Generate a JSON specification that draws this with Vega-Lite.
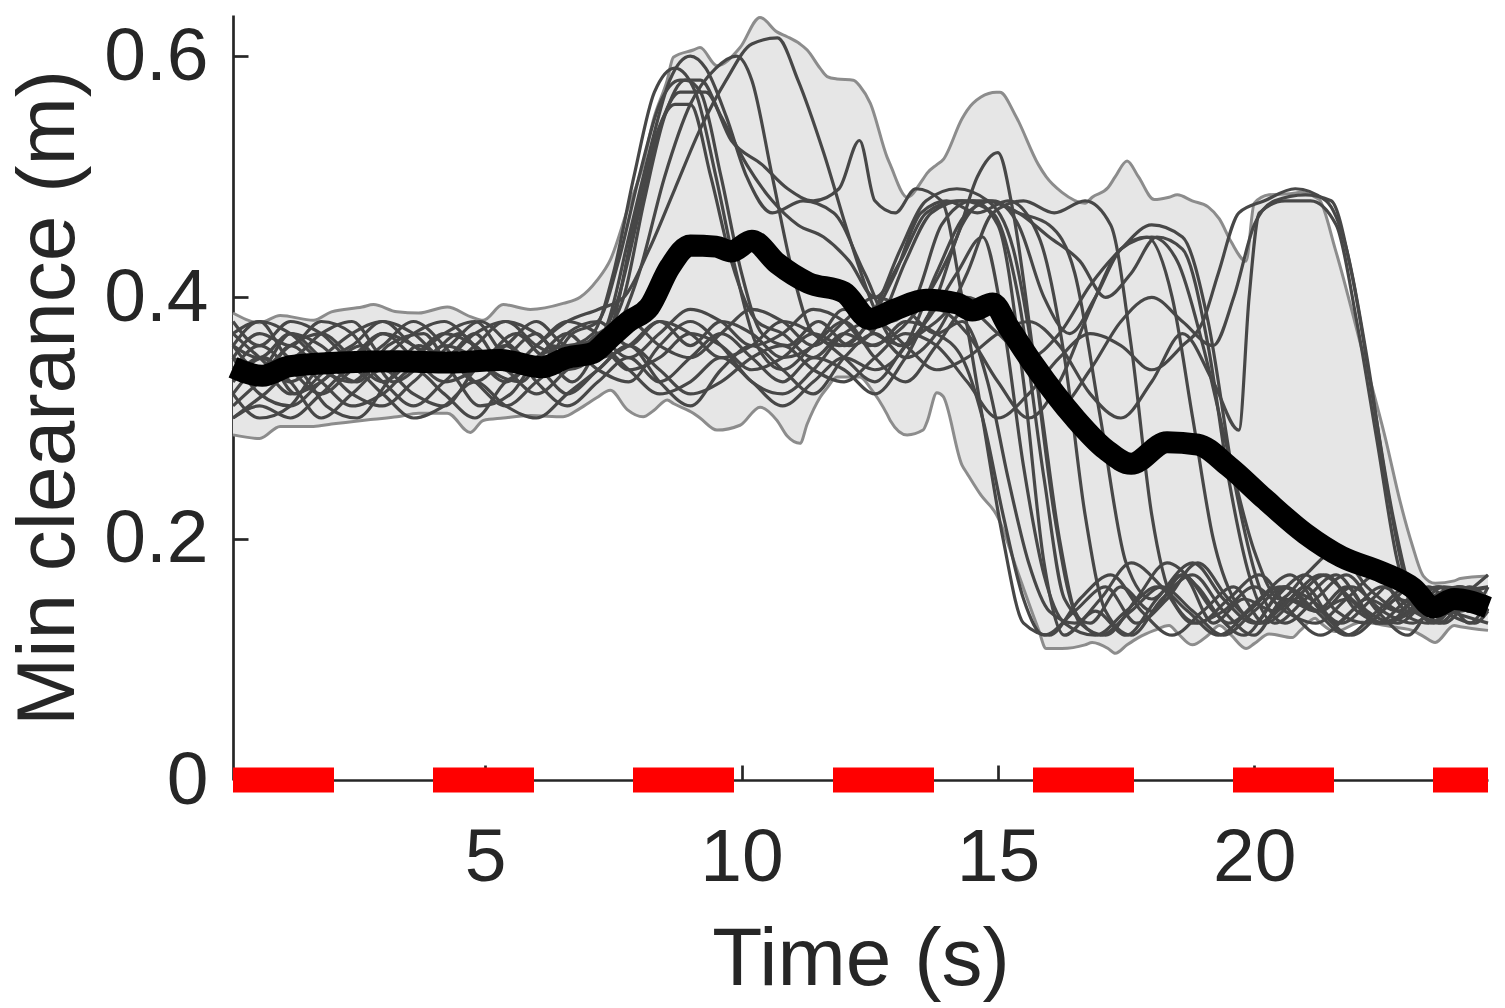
{
  "$schema": "https://vega.github.io/schema/vega-lite/v6.json",
  "description": "Min clearance over time: per-trial traces, envelope and mean",
  "width": 1255,
  "height": 765,
  "autosize": {"type": "none"},
  "padding": {"left": 233, "top": 15, "right": 17, "bottom": 228},
  "config": {
    "view": {"stroke": null},
    "axis": {
      "grid": false,
      "domainColor": "#262626",
      "domainWidth": 2.7,
      "tickColor": "#262626",
      "tickWidth": 2.7,
      "tickSize": -15,
      "labelColor": "#262626",
      "titleColor": "#262626",
      "labelFont": "Liberation Sans",
      "titleFont": "Liberation Sans",
      "labelFontSize": 75,
      "titleFontSize": 82,
      "titleFontWeight": "normal",
      "labelFlush": false,
      "labelOverlap": false
    }
  },
  "datasets": {
    "envelope": [
      {"t": 0.08, "hi": 0.387, "lo": 0.286}, {"t": 0.6, "hi": 0.379, "lo": 0.283}, {"t": 1.0, "hi": 0.385, "lo": 0.293},
      {"t": 1.65, "hi": 0.381, "lo": 0.293}, {"t": 2.0, "hi": 0.388, "lo": 0.295}, {"t": 2.6, "hi": 0.392, "lo": 0.298},
      {"t": 2.82, "hi": 0.394, "lo": 0.299}, {"t": 3.28, "hi": 0.388, "lo": 0.301}, {"t": 3.7, "hi": 0.387, "lo": 0.304},
      {"t": 4.26, "hi": 0.392, "lo": 0.304}, {"t": 4.71, "hi": 0.384, "lo": 0.288}, {"t": 4.96, "hi": 0.381, "lo": 0.298},
      {"t": 5.35, "hi": 0.394, "lo": 0.3}, {"t": 5.88, "hi": 0.39, "lo": 0.302}, {"t": 6.52, "hi": 0.395, "lo": 0.301},
      {"t": 6.85, "hi": 0.4, "lo": 0.308}, {"t": 7.18, "hi": 0.414, "lo": 0.317}, {"t": 7.44, "hi": 0.431, "lo": 0.323},
      {"t": 7.77, "hi": 0.472, "lo": 0.307}, {"t": 8.08, "hi": 0.51, "lo": 0.301}, {"t": 8.28, "hi": 0.547, "lo": 0.306},
      {"t": 8.55, "hi": 0.58, "lo": 0.315}, {"t": 8.67, "hi": 0.599, "lo": 0.312}, {"t": 9.06, "hi": 0.605, "lo": 0.304},
      {"t": 9.19, "hi": 0.607, "lo": 0.3}, {"t": 9.52, "hi": 0.592, "lo": 0.29}, {"t": 9.97, "hi": 0.607, "lo": 0.294},
      {"t": 10.36, "hi": 0.632, "lo": 0.309}, {"t": 10.69, "hi": 0.62, "lo": 0.298}, {"t": 10.89, "hi": 0.616, "lo": 0.285},
      {"t": 11.14, "hi": 0.61, "lo": 0.279}, {"t": 11.28, "hi": 0.605, "lo": 0.295}, {"t": 11.53, "hi": 0.59, "lo": 0.317},
      {"t": 11.67, "hi": 0.583, "lo": 0.325}, {"t": 11.86, "hi": 0.581, "lo": 0.334}, {"t": 12.18, "hi": 0.58, "lo": 0.334},
      {"t": 12.31, "hi": 0.575, "lo": 0.334}, {"t": 12.51, "hi": 0.561, "lo": 0.325}, {"t": 12.84, "hi": 0.516, "lo": 0.303},
      {"t": 12.9, "hi": 0.51, "lo": 0.298}, {"t": 13.23, "hi": 0.483, "lo": 0.286}, {"t": 13.54, "hi": 0.498, "lo": 0.29},
      {"t": 13.62, "hi": 0.503, "lo": 0.297}, {"t": 13.81, "hi": 0.51, "lo": 0.321}, {"t": 13.93, "hi": 0.514, "lo": 0.318},
      {"t": 14.3, "hi": 0.548, "lo": 0.261}, {"t": 14.4, "hi": 0.555, "lo": 0.254}, {"t": 14.67, "hi": 0.566, "lo": 0.236},
      {"t": 14.97, "hi": 0.57, "lo": 0.22}, {"t": 15.04, "hi": 0.57, "lo": 0.214}, {"t": 15.34, "hi": 0.551, "lo": 0.178},
      {"t": 15.79, "hi": 0.51, "lo": 0.125}, {"t": 15.94, "hi": 0.5, "lo": 0.109}, {"t": 16.25, "hi": 0.487, "lo": 0.109},
      {"t": 16.7, "hi": 0.478, "lo": 0.112}, {"t": 16.84, "hi": 0.483, "lo": 0.114}, {"t": 17.15, "hi": 0.491, "lo": 0.109},
      {"t": 17.29, "hi": 0.5, "lo": 0.105}, {"t": 17.52, "hi": 0.513, "lo": 0.112}, {"t": 17.74, "hi": 0.5, "lo": 0.118},
      {"t": 18.05, "hi": 0.481, "lo": 0.124}, {"t": 18.34, "hi": 0.483, "lo": 0.128}, {"t": 18.5, "hi": 0.485, "lo": 0.122},
      {"t": 18.79, "hi": 0.48, "lo": 0.112}, {"t": 19.1, "hi": 0.475, "lo": 0.12}, {"t": 19.32, "hi": 0.465, "lo": 0.128},
      {"t": 19.55, "hi": 0.446, "lo": 0.12}, {"t": 19.84, "hi": 0.43, "lo": 0.109}, {"t": 20.0, "hi": 0.478, "lo": 0.113},
      {"t": 20.29, "hi": 0.485, "lo": 0.121}, {"t": 20.74, "hi": 0.486, "lo": 0.118}, {"t": 20.9, "hi": 0.487, "lo": 0.124},
      {"t": 21.19, "hi": 0.483, "lo": 0.134}, {"t": 21.27, "hi": 0.481, "lo": 0.131}, {"t": 21.58, "hi": 0.44, "lo": 0.123},
      {"t": 22.1, "hi": 0.357, "lo": 0.131}, {"t": 22.56, "hi": 0.283, "lo": 0.128}, {"t": 22.85, "hi": 0.23, "lo": 0.126},
      {"t": 23.08, "hi": 0.195, "lo": 0.124}, {"t": 23.3, "hi": 0.169, "lo": 0.119}, {"t": 23.53, "hi": 0.163, "lo": 0.114},
      {"t": 23.9, "hi": 0.165, "lo": 0.128}, {"t": 24.02, "hi": 0.167, "lo": 0.127}, {"t": 24.56, "hi": 0.169, "lo": 0.124}
    ],
    "trials": [
      {"s": "a", "t": 0.08, "v": 0.36}, {"s": "a", "t": 0.6, "v": 0.34}, {"s": "a", "t": 1.2, "v": 0.37}, {"s": "a", "t": 1.8, "v": 0.35}, {"s": "a", "t": 2.5, "v": 0.33}, {"s": "a", "t": 3.1, "v": 0.36}, {"s": "a", "t": 3.8, "v": 0.37}, {"s": "a", "t": 4.4, "v": 0.34}, {"s": "a", "t": 5.0, "v": 0.35}, {"s": "a", "t": 5.6, "v": 0.37}, {"s": "a", "t": 6.2, "v": 0.35}, {"s": "a", "t": 6.8, "v": 0.36}, {"s": "a", "t": 7.3, "v": 0.37}, {"s": "a", "t": 7.7, "v": 0.4}, {"s": "a", "t": 8.1, "v": 0.48}, {"s": "a", "t": 8.5, "v": 0.55}, {"s": "a", "t": 8.9, "v": 0.58}, {"s": "a", "t": 9.2, "v": 0.57}, {"s": "a", "t": 9.6, "v": 0.5}, {"s": "a", "t": 10.0, "v": 0.42}, {"s": "a", "t": 10.4, "v": 0.37}, {"s": "a", "t": 10.9, "v": 0.36}, {"s": "a", "t": 11.5, "v": 0.38}, {"s": "a", "t": 12.1, "v": 0.36}, {"s": "a", "t": 12.7, "v": 0.38}, {"s": "a", "t": 13.2, "v": 0.43}, {"s": "a", "t": 13.7, "v": 0.47}, {"s": "a", "t": 14.3, "v": 0.48}, {"s": "a", "t": 14.9, "v": 0.47}, {"s": "a", "t": 15.4, "v": 0.4}, {"s": "a", "t": 15.9, "v": 0.25}, {"s": "a", "t": 16.3, "v": 0.15}, {"s": "a", "t": 16.8, "v": 0.13}, {"s": "a", "t": 17.4, "v": 0.16}, {"s": "a", "t": 18.0, "v": 0.14}, {"s": "a", "t": 18.6, "v": 0.17}, {"s": "a", "t": 19.2, "v": 0.13}, {"s": "a", "t": 19.8, "v": 0.15}, {"s": "a", "t": 20.4, "v": 0.14}, {"s": "a", "t": 21.0, "v": 0.16}, {"s": "a", "t": 21.6, "v": 0.13}, {"s": "a", "t": 22.2, "v": 0.15}, {"s": "a", "t": 22.8, "v": 0.14}, {"s": "a", "t": 23.4, "v": 0.16}, {"s": "a", "t": 24.0, "v": 0.14}, {"s": "a", "t": 24.56, "v": 0.15},
      {"s": "b", "t": 0.08, "v": 0.33}, {"s": "b", "t": 0.7, "v": 0.35}, {"s": "b", "t": 1.3, "v": 0.32}, {"s": "b", "t": 1.9, "v": 0.34}, {"s": "b", "t": 2.6, "v": 0.36}, {"s": "b", "t": 3.2, "v": 0.33}, {"s": "b", "t": 3.9, "v": 0.35}, {"s": "b", "t": 4.5, "v": 0.37}, {"s": "b", "t": 5.1, "v": 0.34}, {"s": "b", "t": 5.7, "v": 0.33}, {"s": "b", "t": 6.3, "v": 0.36}, {"s": "b", "t": 6.9, "v": 0.35}, {"s": "b", "t": 7.4, "v": 0.38}, {"s": "b", "t": 7.8, "v": 0.45}, {"s": "b", "t": 8.2, "v": 0.52}, {"s": "b", "t": 8.6, "v": 0.58}, {"s": "b", "t": 9.0, "v": 0.6}, {"s": "b", "t": 9.3, "v": 0.59}, {"s": "b", "t": 9.7, "v": 0.55}, {"s": "b", "t": 10.1, "v": 0.5}, {"s": "b", "t": 10.6, "v": 0.47}, {"s": "b", "t": 11.2, "v": 0.48}, {"s": "b", "t": 11.8, "v": 0.47}, {"s": "b", "t": 12.4, "v": 0.42}, {"s": "b", "t": 12.9, "v": 0.38}, {"s": "b", "t": 13.4, "v": 0.4}, {"s": "b", "t": 13.9, "v": 0.46}, {"s": "b", "t": 14.5, "v": 0.48}, {"s": "b", "t": 15.0, "v": 0.46}, {"s": "b", "t": 15.5, "v": 0.33}, {"s": "b", "t": 15.9, "v": 0.18}, {"s": "b", "t": 16.3, "v": 0.12}, {"s": "b", "t": 16.9, "v": 0.14}, {"s": "b", "t": 17.5, "v": 0.12}, {"s": "b", "t": 18.1, "v": 0.15}, {"s": "b", "t": 18.8, "v": 0.18}, {"s": "b", "t": 19.4, "v": 0.15}, {"s": "b", "t": 20.0, "v": 0.13}, {"s": "b", "t": 20.6, "v": 0.16}, {"s": "b", "t": 21.2, "v": 0.14}, {"s": "b", "t": 21.8, "v": 0.12}, {"s": "b", "t": 22.4, "v": 0.14}, {"s": "b", "t": 23.0, "v": 0.16}, {"s": "b", "t": 23.6, "v": 0.13}, {"s": "b", "t": 24.2, "v": 0.15}, {"s": "b", "t": 24.56, "v": 0.14},
      {"s": "c", "t": 0.08, "v": 0.37}, {"s": "c", "t": 0.6, "v": 0.38}, {"s": "c", "t": 1.2, "v": 0.35}, {"s": "c", "t": 1.8, "v": 0.37}, {"s": "c", "t": 2.4, "v": 0.38}, {"s": "c", "t": 3.0, "v": 0.35}, {"s": "c", "t": 3.7, "v": 0.34}, {"s": "c", "t": 4.3, "v": 0.36}, {"s": "c", "t": 4.9, "v": 0.38}, {"s": "c", "t": 5.5, "v": 0.36}, {"s": "c", "t": 6.1, "v": 0.34}, {"s": "c", "t": 6.7, "v": 0.37}, {"s": "c", "t": 7.2, "v": 0.38}, {"s": "c", "t": 7.6, "v": 0.43}, {"s": "c", "t": 8.0, "v": 0.5}, {"s": "c", "t": 8.4, "v": 0.56}, {"s": "c", "t": 8.8, "v": 0.58}, {"s": "c", "t": 9.2, "v": 0.58}, {"s": "c", "t": 9.6, "v": 0.55}, {"s": "c", "t": 10.1, "v": 0.51}, {"s": "c", "t": 10.6, "v": 0.48}, {"s": "c", "t": 11.1, "v": 0.46}, {"s": "c", "t": 11.6, "v": 0.45}, {"s": "c", "t": 12.1, "v": 0.43}, {"s": "c", "t": 12.6, "v": 0.4}, {"s": "c", "t": 13.1, "v": 0.43}, {"s": "c", "t": 13.6, "v": 0.47}, {"s": "c", "t": 14.2, "v": 0.48}, {"s": "c", "t": 14.8, "v": 0.48}, {"s": "c", "t": 15.4, "v": 0.47}, {"s": "c", "t": 16.0, "v": 0.46}, {"s": "c", "t": 16.5, "v": 0.42}, {"s": "c", "t": 17.0, "v": 0.3}, {"s": "c", "t": 17.5, "v": 0.18}, {"s": "c", "t": 18.0, "v": 0.15}, {"s": "c", "t": 18.6, "v": 0.17}, {"s": "c", "t": 19.2, "v": 0.14}, {"s": "c", "t": 19.8, "v": 0.12}, {"s": "c", "t": 20.4, "v": 0.15}, {"s": "c", "t": 21.0, "v": 0.17}, {"s": "c", "t": 21.6, "v": 0.14}, {"s": "c", "t": 22.2, "v": 0.13}, {"s": "c", "t": 22.8, "v": 0.15}, {"s": "c", "t": 23.4, "v": 0.14}, {"s": "c", "t": 24.0, "v": 0.16}, {"s": "c", "t": 24.56, "v": 0.15},
      {"s": "d", "t": 0.08, "v": 0.35}, {"s": "d", "t": 0.6, "v": 0.32}, {"s": "d", "t": 1.2, "v": 0.31}, {"s": "d", "t": 1.8, "v": 0.33}, {"s": "d", "t": 2.4, "v": 0.35}, {"s": "d", "t": 3.0, "v": 0.37}, {"s": "d", "t": 3.6, "v": 0.35}, {"s": "d", "t": 4.2, "v": 0.33}, {"s": "d", "t": 4.8, "v": 0.34}, {"s": "d", "t": 5.4, "v": 0.36}, {"s": "d", "t": 6.0, "v": 0.38}, {"s": "d", "t": 6.6, "v": 0.36}, {"s": "d", "t": 7.1, "v": 0.37}, {"s": "d", "t": 7.5, "v": 0.42}, {"s": "d", "t": 7.9, "v": 0.5}, {"s": "d", "t": 8.3, "v": 0.57}, {"s": "d", "t": 8.7, "v": 0.59}, {"s": "d", "t": 9.1, "v": 0.57}, {"s": "d", "t": 9.5, "v": 0.5}, {"s": "d", "t": 9.9, "v": 0.42}, {"s": "d", "t": 10.3, "v": 0.36}, {"s": "d", "t": 10.8, "v": 0.34}, {"s": "d", "t": 11.4, "v": 0.36}, {"s": "d", "t": 12.0, "v": 0.38}, {"s": "d", "t": 12.6, "v": 0.35}, {"s": "d", "t": 13.2, "v": 0.33}, {"s": "d", "t": 13.8, "v": 0.36}, {"s": "d", "t": 14.4, "v": 0.39}, {"s": "d", "t": 15.0, "v": 0.37}, {"s": "d", "t": 15.6, "v": 0.35}, {"s": "d", "t": 16.2, "v": 0.37}, {"s": "d", "t": 16.8, "v": 0.41}, {"s": "d", "t": 17.4, "v": 0.44}, {"s": "d", "t": 18.0, "v": 0.46}, {"s": "d", "t": 18.6, "v": 0.45}, {"s": "d", "t": 19.1, "v": 0.38}, {"s": "d", "t": 19.6, "v": 0.25}, {"s": "d", "t": 20.1, "v": 0.16}, {"s": "d", "t": 20.6, "v": 0.13}, {"s": "d", "t": 21.2, "v": 0.15}, {"s": "d", "t": 21.8, "v": 0.17}, {"s": "d", "t": 22.4, "v": 0.14}, {"s": "d", "t": 23.0, "v": 0.12}, {"s": "d", "t": 23.6, "v": 0.15}, {"s": "d", "t": 24.2, "v": 0.14}, {"s": "d", "t": 24.56, "v": 0.16},
      {"s": "e", "t": 0.08, "v": 0.3}, {"s": "e", "t": 0.7, "v": 0.32}, {"s": "e", "t": 1.3, "v": 0.34}, {"s": "e", "t": 1.9, "v": 0.31}, {"s": "e", "t": 2.5, "v": 0.3}, {"s": "e", "t": 3.1, "v": 0.33}, {"s": "e", "t": 3.7, "v": 0.36}, {"s": "e", "t": 4.3, "v": 0.34}, {"s": "e", "t": 4.9, "v": 0.31}, {"s": "e", "t": 5.5, "v": 0.32}, {"s": "e", "t": 6.1, "v": 0.35}, {"s": "e", "t": 6.7, "v": 0.33}, {"s": "e", "t": 7.2, "v": 0.36}, {"s": "e", "t": 7.6, "v": 0.4}, {"s": "e", "t": 8.0, "v": 0.47}, {"s": "e", "t": 8.4, "v": 0.54}, {"s": "e", "t": 8.8, "v": 0.57}, {"s": "e", "t": 9.3, "v": 0.57}, {"s": "e", "t": 9.8, "v": 0.53}, {"s": "e", "t": 10.4, "v": 0.51}, {"s": "e", "t": 10.9, "v": 0.49}, {"s": "e", "t": 11.4, "v": 0.48}, {"s": "e", "t": 11.9, "v": 0.49}, {"s": "e", "t": 12.3, "v": 0.53}, {"s": "e", "t": 12.6, "v": 0.48}, {"s": "e", "t": 13.0, "v": 0.47}, {"s": "e", "t": 13.4, "v": 0.49}, {"s": "e", "t": 13.9, "v": 0.48}, {"s": "e", "t": 14.3, "v": 0.4}, {"s": "e", "t": 14.7, "v": 0.3}, {"s": "e", "t": 15.1, "v": 0.2}, {"s": "e", "t": 15.5, "v": 0.13}, {"s": "e", "t": 16.0, "v": 0.12}, {"s": "e", "t": 16.6, "v": 0.15}, {"s": "e", "t": 17.2, "v": 0.17}, {"s": "e", "t": 17.8, "v": 0.14}, {"s": "e", "t": 18.4, "v": 0.12}, {"s": "e", "t": 19.0, "v": 0.14}, {"s": "e", "t": 19.6, "v": 0.16}, {"s": "e", "t": 20.2, "v": 0.13}, {"s": "e", "t": 20.8, "v": 0.15}, {"s": "e", "t": 21.4, "v": 0.17}, {"s": "e", "t": 22.0, "v": 0.14}, {"s": "e", "t": 22.6, "v": 0.13}, {"s": "e", "t": 23.2, "v": 0.15}, {"s": "e", "t": 23.8, "v": 0.14}, {"s": "e", "t": 24.56, "v": 0.13},
      {"s": "f", "t": 0.08, "v": 0.34}, {"s": "f", "t": 0.6, "v": 0.36}, {"s": "f", "t": 1.2, "v": 0.34}, {"s": "f", "t": 1.8, "v": 0.32}, {"s": "f", "t": 2.4, "v": 0.34}, {"s": "f", "t": 3.0, "v": 0.36}, {"s": "f", "t": 3.6, "v": 0.38}, {"s": "f", "t": 4.2, "v": 0.36}, {"s": "f", "t": 4.8, "v": 0.33}, {"s": "f", "t": 5.4, "v": 0.35}, {"s": "f", "t": 6.0, "v": 0.37}, {"s": "f", "t": 6.6, "v": 0.34}, {"s": "f", "t": 7.1, "v": 0.35}, {"s": "f", "t": 7.5, "v": 0.38}, {"s": "f", "t": 7.9, "v": 0.46}, {"s": "f", "t": 8.3, "v": 0.53}, {"s": "f", "t": 8.7, "v": 0.56}, {"s": "f", "t": 9.0, "v": 0.56}, {"s": "f", "t": 9.4, "v": 0.5}, {"s": "f", "t": 9.8, "v": 0.43}, {"s": "f", "t": 10.3, "v": 0.38}, {"s": "f", "t": 10.8, "v": 0.37}, {"s": "f", "t": 11.4, "v": 0.35}, {"s": "f", "t": 12.0, "v": 0.37}, {"s": "f", "t": 12.6, "v": 0.36}, {"s": "f", "t": 13.2, "v": 0.38}, {"s": "f", "t": 13.8, "v": 0.37}, {"s": "f", "t": 14.3, "v": 0.35}, {"s": "f", "t": 14.7, "v": 0.3}, {"s": "f", "t": 15.1, "v": 0.22}, {"s": "f", "t": 15.5, "v": 0.15}, {"s": "f", "t": 15.9, "v": 0.12}, {"s": "f", "t": 16.5, "v": 0.14}, {"s": "f", "t": 17.1, "v": 0.16}, {"s": "f", "t": 17.7, "v": 0.13}, {"s": "f", "t": 18.3, "v": 0.15}, {"s": "f", "t": 18.9, "v": 0.18}, {"s": "f", "t": 19.5, "v": 0.15}, {"s": "f", "t": 20.1, "v": 0.13}, {"s": "f", "t": 20.7, "v": 0.15}, {"s": "f", "t": 21.3, "v": 0.14}, {"s": "f", "t": 21.9, "v": 0.16}, {"s": "f", "t": 22.5, "v": 0.14}, {"s": "f", "t": 23.1, "v": 0.13}, {"s": "f", "t": 23.7, "v": 0.15}, {"s": "f", "t": 24.56, "v": 0.16},
      {"s": "g", "t": 0.08, "v": 0.36}, {"s": "g", "t": 0.6, "v": 0.35}, {"s": "g", "t": 1.2, "v": 0.37}, {"s": "g", "t": 1.8, "v": 0.36}, {"s": "g", "t": 2.4, "v": 0.34}, {"s": "g", "t": 3.0, "v": 0.35}, {"s": "g", "t": 3.6, "v": 0.37}, {"s": "g", "t": 4.2, "v": 0.38}, {"s": "g", "t": 4.8, "v": 0.36}, {"s": "g", "t": 5.4, "v": 0.34}, {"s": "g", "t": 6.0, "v": 0.36}, {"s": "g", "t": 6.6, "v": 0.38}, {"s": "g", "t": 7.2, "v": 0.39}, {"s": "g", "t": 7.7, "v": 0.4}, {"s": "g", "t": 8.2, "v": 0.44}, {"s": "g", "t": 8.7, "v": 0.49}, {"s": "g", "t": 9.2, "v": 0.54}, {"s": "g", "t": 9.7, "v": 0.58}, {"s": "g", "t": 10.2, "v": 0.61}, {"s": "g", "t": 10.7, "v": 0.615}, {"s": "g", "t": 11.1, "v": 0.58}, {"s": "g", "t": 11.6, "v": 0.52}, {"s": "g", "t": 12.1, "v": 0.45}, {"s": "g", "t": 12.6, "v": 0.39}, {"s": "g", "t": 13.1, "v": 0.36}, {"s": "g", "t": 13.6, "v": 0.38}, {"s": "g", "t": 14.2, "v": 0.42}, {"s": "g", "t": 14.7, "v": 0.45}, {"s": "g", "t": 15.1, "v": 0.38}, {"s": "g", "t": 15.5, "v": 0.26}, {"s": "g", "t": 15.9, "v": 0.17}, {"s": "g", "t": 16.3, "v": 0.13}, {"s": "g", "t": 16.9, "v": 0.12}, {"s": "g", "t": 17.5, "v": 0.14}, {"s": "g", "t": 18.1, "v": 0.16}, {"s": "g", "t": 18.7, "v": 0.14}, {"s": "g", "t": 19.3, "v": 0.12}, {"s": "g", "t": 19.9, "v": 0.14}, {"s": "g", "t": 20.5, "v": 0.16}, {"s": "g", "t": 21.1, "v": 0.15}, {"s": "g", "t": 21.7, "v": 0.13}, {"s": "g", "t": 22.3, "v": 0.15}, {"s": "g", "t": 22.9, "v": 0.17}, {"s": "g", "t": 23.5, "v": 0.14}, {"s": "g", "t": 24.1, "v": 0.15}, {"s": "g", "t": 24.56, "v": 0.14},
      {"s": "h", "t": 0.08, "v": 0.32}, {"s": "h", "t": 0.6, "v": 0.3}, {"s": "h", "t": 1.2, "v": 0.31}, {"s": "h", "t": 1.8, "v": 0.34}, {"s": "h", "t": 2.4, "v": 0.32}, {"s": "h", "t": 3.0, "v": 0.31}, {"s": "h", "t": 3.6, "v": 0.33}, {"s": "h", "t": 4.2, "v": 0.35}, {"s": "h", "t": 4.8, "v": 0.33}, {"s": "h", "t": 5.4, "v": 0.31}, {"s": "h", "t": 6.0, "v": 0.33}, {"s": "h", "t": 6.6, "v": 0.35}, {"s": "h", "t": 7.1, "v": 0.36}, {"s": "h", "t": 7.5, "v": 0.37}, {"s": "h", "t": 8.0, "v": 0.42}, {"s": "h", "t": 8.5, "v": 0.5}, {"s": "h", "t": 9.0, "v": 0.56}, {"s": "h", "t": 9.5, "v": 0.59}, {"s": "h", "t": 9.9, "v": 0.6}, {"s": "h", "t": 10.2, "v": 0.58}, {"s": "h", "t": 10.6, "v": 0.5}, {"s": "h", "t": 11.0, "v": 0.42}, {"s": "h", "t": 11.4, "v": 0.37}, {"s": "h", "t": 11.9, "v": 0.36}, {"s": "h", "t": 12.5, "v": 0.38}, {"s": "h", "t": 13.0, "v": 0.42}, {"s": "h", "t": 13.5, "v": 0.47}, {"s": "h", "t": 14.0, "v": 0.48}, {"s": "h", "t": 14.6, "v": 0.47}, {"s": "h", "t": 15.2, "v": 0.48}, {"s": "h", "t": 15.8, "v": 0.45}, {"s": "h", "t": 16.3, "v": 0.35}, {"s": "h", "t": 16.7, "v": 0.22}, {"s": "h", "t": 17.1, "v": 0.14}, {"s": "h", "t": 17.6, "v": 0.12}, {"s": "h", "t": 18.2, "v": 0.15}, {"s": "h", "t": 18.8, "v": 0.17}, {"s": "h", "t": 19.4, "v": 0.14}, {"s": "h", "t": 20.0, "v": 0.12}, {"s": "h", "t": 20.6, "v": 0.15}, {"s": "h", "t": 21.2, "v": 0.14}, {"s": "h", "t": 21.8, "v": 0.16}, {"s": "h", "t": 22.4, "v": 0.13}, {"s": "h", "t": 23.0, "v": 0.14}, {"s": "h", "t": 23.6, "v": 0.16}, {"s": "h", "t": 24.2, "v": 0.14}, {"s": "h", "t": 24.56, "v": 0.15},
      {"s": "i", "t": 0.08, "v": 0.38}, {"s": "i", "t": 0.6, "v": 0.36}, {"s": "i", "t": 1.2, "v": 0.38}, {"s": "i", "t": 1.8, "v": 0.37}, {"s": "i", "t": 2.4, "v": 0.35}, {"s": "i", "t": 3.0, "v": 0.37}, {"s": "i", "t": 3.6, "v": 0.36}, {"s": "i", "t": 4.2, "v": 0.34}, {"s": "i", "t": 4.8, "v": 0.36}, {"s": "i", "t": 5.4, "v": 0.38}, {"s": "i", "t": 6.0, "v": 0.36}, {"s": "i", "t": 6.6, "v": 0.35}, {"s": "i", "t": 7.2, "v": 0.36}, {"s": "i", "t": 7.8, "v": 0.34}, {"s": "i", "t": 8.4, "v": 0.35}, {"s": "i", "t": 9.0, "v": 0.37}, {"s": "i", "t": 9.6, "v": 0.36}, {"s": "i", "t": 10.2, "v": 0.34}, {"s": "i", "t": 10.8, "v": 0.35}, {"s": "i", "t": 11.4, "v": 0.37}, {"s": "i", "t": 12.0, "v": 0.36}, {"s": "i", "t": 12.6, "v": 0.39}, {"s": "i", "t": 13.1, "v": 0.44}, {"s": "i", "t": 13.6, "v": 0.48}, {"s": "i", "t": 14.2, "v": 0.49}, {"s": "i", "t": 14.8, "v": 0.48}, {"s": "i", "t": 15.3, "v": 0.44}, {"s": "i", "t": 15.8, "v": 0.32}, {"s": "i", "t": 16.2, "v": 0.2}, {"s": "i", "t": 16.6, "v": 0.13}, {"s": "i", "t": 17.1, "v": 0.12}, {"s": "i", "t": 17.7, "v": 0.15}, {"s": "i", "t": 18.3, "v": 0.18}, {"s": "i", "t": 18.9, "v": 0.16}, {"s": "i", "t": 19.5, "v": 0.13}, {"s": "i", "t": 20.1, "v": 0.15}, {"s": "i", "t": 20.7, "v": 0.17}, {"s": "i", "t": 21.3, "v": 0.14}, {"s": "i", "t": 21.9, "v": 0.12}, {"s": "i", "t": 22.5, "v": 0.14}, {"s": "i", "t": 23.1, "v": 0.16}, {"s": "i", "t": 23.7, "v": 0.14}, {"s": "i", "t": 24.3, "v": 0.13}, {"s": "i", "t": 24.56, "v": 0.14},
      {"s": "j", "t": 0.08, "v": 0.31}, {"s": "j", "t": 0.6, "v": 0.33}, {"s": "j", "t": 1.2, "v": 0.35}, {"s": "j", "t": 1.8, "v": 0.33}, {"s": "j", "t": 2.4, "v": 0.31}, {"s": "j", "t": 3.0, "v": 0.32}, {"s": "j", "t": 3.6, "v": 0.34}, {"s": "j", "t": 4.2, "v": 0.32}, {"s": "j", "t": 4.8, "v": 0.3}, {"s": "j", "t": 5.4, "v": 0.33}, {"s": "j", "t": 6.0, "v": 0.34}, {"s": "j", "t": 6.6, "v": 0.32}, {"s": "j", "t": 7.2, "v": 0.34}, {"s": "j", "t": 7.8, "v": 0.36}, {"s": "j", "t": 8.4, "v": 0.33}, {"s": "j", "t": 9.0, "v": 0.31}, {"s": "j", "t": 9.6, "v": 0.34}, {"s": "j", "t": 10.2, "v": 0.36}, {"s": "j", "t": 10.8, "v": 0.34}, {"s": "j", "t": 11.4, "v": 0.32}, {"s": "j", "t": 12.0, "v": 0.35}, {"s": "j", "t": 12.6, "v": 0.37}, {"s": "j", "t": 13.2, "v": 0.35}, {"s": "j", "t": 13.8, "v": 0.37}, {"s": "j", "t": 14.4, "v": 0.42}, {"s": "j", "t": 14.9, "v": 0.47}, {"s": "j", "t": 15.5, "v": 0.48}, {"s": "j", "t": 16.1, "v": 0.47}, {"s": "j", "t": 16.7, "v": 0.48}, {"s": "j", "t": 17.2, "v": 0.46}, {"s": "j", "t": 17.6, "v": 0.36}, {"s": "j", "t": 18.0, "v": 0.22}, {"s": "j", "t": 18.4, "v": 0.15}, {"s": "j", "t": 18.9, "v": 0.13}, {"s": "j", "t": 19.5, "v": 0.15}, {"s": "j", "t": 20.1, "v": 0.17}, {"s": "j", "t": 20.7, "v": 0.14}, {"s": "j", "t": 21.3, "v": 0.12}, {"s": "j", "t": 21.9, "v": 0.14}, {"s": "j", "t": 22.5, "v": 0.16}, {"s": "j", "t": 23.1, "v": 0.14}, {"s": "j", "t": 23.7, "v": 0.13}, {"s": "j", "t": 24.3, "v": 0.15}, {"s": "j", "t": 24.56, "v": 0.14},
      {"s": "k", "t": 0.08, "v": 0.35}, {"s": "k", "t": 0.6, "v": 0.37}, {"s": "k", "t": 1.2, "v": 0.36}, {"s": "k", "t": 1.8, "v": 0.38}, {"s": "k", "t": 2.4, "v": 0.37}, {"s": "k", "t": 3.0, "v": 0.34}, {"s": "k", "t": 3.6, "v": 0.35}, {"s": "k", "t": 4.2, "v": 0.37}, {"s": "k", "t": 4.8, "v": 0.38}, {"s": "k", "t": 5.4, "v": 0.35}, {"s": "k", "t": 6.0, "v": 0.34}, {"s": "k", "t": 6.6, "v": 0.37}, {"s": "k", "t": 7.2, "v": 0.38}, {"s": "k", "t": 7.8, "v": 0.36}, {"s": "k", "t": 8.4, "v": 0.38}, {"s": "k", "t": 9.0, "v": 0.36}, {"s": "k", "t": 9.6, "v": 0.38}, {"s": "k", "t": 10.2, "v": 0.37}, {"s": "k", "t": 10.8, "v": 0.35}, {"s": "k", "t": 11.4, "v": 0.36}, {"s": "k", "t": 12.0, "v": 0.39}, {"s": "k", "t": 12.6, "v": 0.37}, {"s": "k", "t": 13.2, "v": 0.36}, {"s": "k", "t": 13.8, "v": 0.4}, {"s": "k", "t": 14.3, "v": 0.46}, {"s": "k", "t": 14.8, "v": 0.48}, {"s": "k", "t": 15.4, "v": 0.47}, {"s": "k", "t": 16.0, "v": 0.45}, {"s": "k", "t": 16.6, "v": 0.43}, {"s": "k", "t": 17.1, "v": 0.4}, {"s": "k", "t": 17.6, "v": 0.42}, {"s": "k", "t": 18.1, "v": 0.45}, {"s": "k", "t": 18.6, "v": 0.44}, {"s": "k", "t": 19.1, "v": 0.36}, {"s": "k", "t": 19.5, "v": 0.25}, {"s": "k", "t": 19.9, "v": 0.17}, {"s": "k", "t": 20.4, "v": 0.13}, {"s": "k", "t": 21.0, "v": 0.15}, {"s": "k", "t": 21.6, "v": 0.17}, {"s": "k", "t": 22.2, "v": 0.14}, {"s": "k", "t": 22.8, "v": 0.13}, {"s": "k", "t": 23.4, "v": 0.15}, {"s": "k", "t": 24.0, "v": 0.16}, {"s": "k", "t": 24.56, "v": 0.14},
      {"s": "l", "t": 0.08, "v": 0.33}, {"s": "l", "t": 0.6, "v": 0.35}, {"s": "l", "t": 1.2, "v": 0.33}, {"s": "l", "t": 1.8, "v": 0.3}, {"s": "l", "t": 2.4, "v": 0.32}, {"s": "l", "t": 3.0, "v": 0.34}, {"s": "l", "t": 3.6, "v": 0.32}, {"s": "l", "t": 4.2, "v": 0.31}, {"s": "l", "t": 4.8, "v": 0.34}, {"s": "l", "t": 5.4, "v": 0.36}, {"s": "l", "t": 6.0, "v": 0.33}, {"s": "l", "t": 6.6, "v": 0.31}, {"s": "l", "t": 7.2, "v": 0.33}, {"s": "l", "t": 7.8, "v": 0.35}, {"s": "l", "t": 8.4, "v": 0.33}, {"s": "l", "t": 9.0, "v": 0.35}, {"s": "l", "t": 9.6, "v": 0.37}, {"s": "l", "t": 10.2, "v": 0.35}, {"s": "l", "t": 10.8, "v": 0.33}, {"s": "l", "t": 11.4, "v": 0.35}, {"s": "l", "t": 12.0, "v": 0.34}, {"s": "l", "t": 12.6, "v": 0.32}, {"s": "l", "t": 13.2, "v": 0.35}, {"s": "l", "t": 13.8, "v": 0.39}, {"s": "l", "t": 14.4, "v": 0.37}, {"s": "l", "t": 15.0, "v": 0.33}, {"s": "l", "t": 15.6, "v": 0.3}, {"s": "l", "t": 16.2, "v": 0.33}, {"s": "l", "t": 16.8, "v": 0.39}, {"s": "l", "t": 17.4, "v": 0.44}, {"s": "l", "t": 18.0, "v": 0.45}, {"s": "l", "t": 18.5, "v": 0.43}, {"s": "l", "t": 19.0, "v": 0.36}, {"s": "l", "t": 19.5, "v": 0.27}, {"s": "l", "t": 20.0, "v": 0.19}, {"s": "l", "t": 20.5, "v": 0.15}, {"s": "l", "t": 21.0, "v": 0.17}, {"s": "l", "t": 21.6, "v": 0.19}, {"s": "l", "t": 22.2, "v": 0.16}, {"s": "l", "t": 22.8, "v": 0.14}, {"s": "l", "t": 23.4, "v": 0.13}, {"s": "l", "t": 24.0, "v": 0.15}, {"s": "l", "t": 24.56, "v": 0.17},
      {"s": "m", "t": 0.08, "v": 0.37}, {"s": "m", "t": 0.6, "v": 0.35}, {"s": "m", "t": 1.2, "v": 0.33}, {"s": "m", "t": 1.8, "v": 0.35}, {"s": "m", "t": 2.4, "v": 0.37}, {"s": "m", "t": 3.0, "v": 0.38}, {"s": "m", "t": 3.6, "v": 0.36}, {"s": "m", "t": 4.2, "v": 0.35}, {"s": "m", "t": 4.8, "v": 0.37}, {"s": "m", "t": 5.4, "v": 0.34}, {"s": "m", "t": 6.0, "v": 0.35}, {"s": "m", "t": 6.6, "v": 0.37}, {"s": "m", "t": 7.2, "v": 0.35}, {"s": "m", "t": 7.8, "v": 0.36}, {"s": "m", "t": 8.4, "v": 0.38}, {"s": "m", "t": 9.0, "v": 0.37}, {"s": "m", "t": 9.6, "v": 0.35}, {"s": "m", "t": 10.2, "v": 0.36}, {"s": "m", "t": 10.8, "v": 0.38}, {"s": "m", "t": 11.4, "v": 0.37}, {"s": "m", "t": 12.0, "v": 0.35}, {"s": "m", "t": 12.6, "v": 0.33}, {"s": "m", "t": 13.2, "v": 0.36}, {"s": "m", "t": 13.8, "v": 0.38}, {"s": "m", "t": 14.4, "v": 0.4}, {"s": "m", "t": 15.0, "v": 0.38}, {"s": "m", "t": 15.6, "v": 0.34}, {"s": "m", "t": 16.2, "v": 0.31}, {"s": "m", "t": 16.8, "v": 0.34}, {"s": "m", "t": 17.4, "v": 0.38}, {"s": "m", "t": 18.0, "v": 0.4}, {"s": "m", "t": 18.6, "v": 0.38}, {"s": "m", "t": 19.2, "v": 0.36}, {"s": "m", "t": 19.6, "v": 0.4}, {"s": "m", "t": 20.0, "v": 0.46}, {"s": "m", "t": 20.4, "v": 0.48}, {"s": "m", "t": 21.0, "v": 0.485}, {"s": "m", "t": 21.5, "v": 0.48}, {"s": "m", "t": 21.9, "v": 0.42}, {"s": "m", "t": 22.3, "v": 0.32}, {"s": "m", "t": 22.7, "v": 0.22}, {"s": "m", "t": 23.1, "v": 0.15}, {"s": "m", "t": 23.5, "v": 0.13}, {"s": "m", "t": 24.0, "v": 0.15}, {"s": "m", "t": 24.56, "v": 0.16},
      {"s": "n", "t": 0.08, "v": 0.34}, {"s": "n", "t": 0.6, "v": 0.33}, {"s": "n", "t": 1.2, "v": 0.36}, {"s": "n", "t": 1.8, "v": 0.34}, {"s": "n", "t": 2.4, "v": 0.33}, {"s": "n", "t": 3.0, "v": 0.35}, {"s": "n", "t": 3.6, "v": 0.34}, {"s": "n", "t": 4.2, "v": 0.36}, {"s": "n", "t": 4.8, "v": 0.35}, {"s": "n", "t": 5.4, "v": 0.33}, {"s": "n", "t": 6.0, "v": 0.35}, {"s": "n", "t": 6.6, "v": 0.36}, {"s": "n", "t": 7.2, "v": 0.34}, {"s": "n", "t": 7.8, "v": 0.33}, {"s": "n", "t": 8.4, "v": 0.36}, {"s": "n", "t": 9.0, "v": 0.38}, {"s": "n", "t": 9.6, "v": 0.36}, {"s": "n", "t": 10.2, "v": 0.33}, {"s": "n", "t": 10.8, "v": 0.32}, {"s": "n", "t": 11.4, "v": 0.34}, {"s": "n", "t": 12.0, "v": 0.37}, {"s": "n", "t": 12.6, "v": 0.38}, {"s": "n", "t": 13.2, "v": 0.36}, {"s": "n", "t": 13.8, "v": 0.34}, {"s": "n", "t": 14.4, "v": 0.35}, {"s": "n", "t": 15.0, "v": 0.37}, {"s": "n", "t": 15.6, "v": 0.38}, {"s": "n", "t": 16.2, "v": 0.36}, {"s": "n", "t": 16.8, "v": 0.32}, {"s": "n", "t": 17.4, "v": 0.3}, {"s": "n", "t": 18.0, "v": 0.33}, {"s": "n", "t": 18.6, "v": 0.37}, {"s": "n", "t": 19.2, "v": 0.33}, {"s": "n", "t": 19.7, "v": 0.29}, {"s": "n", "t": 19.9, "v": 0.4}, {"s": "n", "t": 20.1, "v": 0.47}, {"s": "n", "t": 20.6, "v": 0.48}, {"s": "n", "t": 21.1, "v": 0.48}, {"s": "n", "t": 21.6, "v": 0.46}, {"s": "n", "t": 22.0, "v": 0.38}, {"s": "n", "t": 22.4, "v": 0.28}, {"s": "n", "t": 22.8, "v": 0.18}, {"s": "n", "t": 23.2, "v": 0.14}, {"s": "n", "t": 23.7, "v": 0.15}, {"s": "n", "t": 24.2, "v": 0.13}, {"s": "n", "t": 24.56, "v": 0.15},
      {"s": "o", "t": 0.08, "v": 0.36}, {"s": "o", "t": 0.6, "v": 0.38}, {"s": "o", "t": 1.2, "v": 0.37}, {"s": "o", "t": 1.8, "v": 0.35}, {"s": "o", "t": 2.4, "v": 0.36}, {"s": "o", "t": 3.0, "v": 0.38}, {"s": "o", "t": 3.6, "v": 0.37}, {"s": "o", "t": 4.2, "v": 0.35}, {"s": "o", "t": 4.8, "v": 0.37}, {"s": "o", "t": 5.4, "v": 0.38}, {"s": "o", "t": 6.0, "v": 0.37}, {"s": "o", "t": 6.6, "v": 0.35}, {"s": "o", "t": 7.2, "v": 0.37}, {"s": "o", "t": 7.8, "v": 0.38}, {"s": "o", "t": 8.4, "v": 0.36}, {"s": "o", "t": 9.0, "v": 0.35}, {"s": "o", "t": 9.6, "v": 0.37}, {"s": "o", "t": 10.2, "v": 0.39}, {"s": "o", "t": 10.8, "v": 0.38}, {"s": "o", "t": 11.4, "v": 0.36}, {"s": "o", "t": 12.0, "v": 0.38}, {"s": "o", "t": 12.6, "v": 0.4}, {"s": "o", "t": 13.2, "v": 0.39}, {"s": "o", "t": 13.8, "v": 0.37}, {"s": "o", "t": 14.3, "v": 0.38}, {"s": "o", "t": 14.8, "v": 0.33}, {"s": "o", "t": 15.2, "v": 0.25}, {"s": "o", "t": 15.6, "v": 0.18}, {"s": "o", "t": 16.0, "v": 0.14}, {"s": "o", "t": 16.5, "v": 0.13}, {"s": "o", "t": 17.0, "v": 0.15}, {"s": "o", "t": 17.6, "v": 0.18}, {"s": "o", "t": 18.2, "v": 0.16}, {"s": "o", "t": 18.8, "v": 0.13}, {"s": "o", "t": 19.4, "v": 0.14}, {"s": "o", "t": 20.0, "v": 0.16}, {"s": "o", "t": 20.6, "v": 0.14}, {"s": "o", "t": 21.2, "v": 0.13}, {"s": "o", "t": 21.8, "v": 0.15}, {"s": "o", "t": 22.4, "v": 0.17}, {"s": "o", "t": 23.0, "v": 0.14}, {"s": "o", "t": 23.6, "v": 0.14}, {"s": "o", "t": 24.2, "v": 0.16}, {"s": "o", "t": 24.56, "v": 0.15},
      {"s": "p", "t": 0.08, "v": 0.32}, {"s": "p", "t": 0.6, "v": 0.34}, {"s": "p", "t": 1.2, "v": 0.32}, {"s": "p", "t": 1.8, "v": 0.33}, {"s": "p", "t": 2.4, "v": 0.35}, {"s": "p", "t": 3.0, "v": 0.33}, {"s": "p", "t": 3.6, "v": 0.31}, {"s": "p", "t": 4.2, "v": 0.33}, {"s": "p", "t": 4.8, "v": 0.35}, {"s": "p", "t": 5.4, "v": 0.34}, {"s": "p", "t": 6.0, "v": 0.32}, {"s": "p", "t": 6.6, "v": 0.34}, {"s": "p", "t": 7.2, "v": 0.36}, {"s": "p", "t": 7.8, "v": 0.34}, {"s": "p", "t": 8.4, "v": 0.32}, {"s": "p", "t": 9.0, "v": 0.33}, {"s": "p", "t": 9.6, "v": 0.35}, {"s": "p", "t": 10.2, "v": 0.33}, {"s": "p", "t": 10.8, "v": 0.31}, {"s": "p", "t": 11.4, "v": 0.33}, {"s": "p", "t": 12.0, "v": 0.35}, {"s": "p", "t": 12.6, "v": 0.34}, {"s": "p", "t": 13.2, "v": 0.36}, {"s": "p", "t": 13.8, "v": 0.42}, {"s": "p", "t": 14.4, "v": 0.47}, {"s": "p", "t": 14.9, "v": 0.48}, {"s": "p", "t": 15.4, "v": 0.46}, {"s": "p", "t": 15.9, "v": 0.4}, {"s": "p", "t": 16.4, "v": 0.37}, {"s": "p", "t": 16.9, "v": 0.4}, {"s": "p", "t": 17.4, "v": 0.44}, {"s": "p", "t": 17.9, "v": 0.45}, {"s": "p", "t": 18.4, "v": 0.4}, {"s": "p", "t": 18.8, "v": 0.3}, {"s": "p", "t": 19.2, "v": 0.2}, {"s": "p", "t": 19.6, "v": 0.15}, {"s": "p", "t": 20.1, "v": 0.13}, {"s": "p", "t": 20.7, "v": 0.15}, {"s": "p", "t": 21.3, "v": 0.17}, {"s": "p", "t": 21.9, "v": 0.15}, {"s": "p", "t": 22.5, "v": 0.13}, {"s": "p", "t": 23.1, "v": 0.14}, {"s": "p", "t": 23.7, "v": 0.16}, {"s": "p", "t": 24.3, "v": 0.15}, {"s": "p", "t": 24.56, "v": 0.14},
      {"s": "q", "t": 0.08, "v": 0.3}, {"s": "q", "t": 0.6, "v": 0.31}, {"s": "q", "t": 1.2, "v": 0.3}, {"s": "q", "t": 1.8, "v": 0.32}, {"s": "q", "t": 2.4, "v": 0.34}, {"s": "q", "t": 3.0, "v": 0.32}, {"s": "q", "t": 3.6, "v": 0.3}, {"s": "q", "t": 4.2, "v": 0.31}, {"s": "q", "t": 4.8, "v": 0.33}, {"s": "q", "t": 5.4, "v": 0.31}, {"s": "q", "t": 6.0, "v": 0.3}, {"s": "q", "t": 6.6, "v": 0.32}, {"s": "q", "t": 7.2, "v": 0.34}, {"s": "q", "t": 7.8, "v": 0.36}, {"s": "q", "t": 8.4, "v": 0.34}, {"s": "q", "t": 9.0, "v": 0.32}, {"s": "q", "t": 9.6, "v": 0.33}, {"s": "q", "t": 10.2, "v": 0.35}, {"s": "q", "t": 10.8, "v": 0.36}, {"s": "q", "t": 11.4, "v": 0.34}, {"s": "q", "t": 12.0, "v": 0.33}, {"s": "q", "t": 12.6, "v": 0.35}, {"s": "q", "t": 13.2, "v": 0.37}, {"s": "q", "t": 13.8, "v": 0.36}, {"s": "q", "t": 14.4, "v": 0.33}, {"s": "q", "t": 15.0, "v": 0.3}, {"s": "q", "t": 15.6, "v": 0.32}, {"s": "q", "t": 16.2, "v": 0.35}, {"s": "q", "t": 16.8, "v": 0.37}, {"s": "q", "t": 17.4, "v": 0.36}, {"s": "q", "t": 18.0, "v": 0.34}, {"s": "q", "t": 18.6, "v": 0.36}, {"s": "q", "t": 19.0, "v": 0.38}, {"s": "q", "t": 19.3, "v": 0.42}, {"s": "q", "t": 19.7, "v": 0.47}, {"s": "q", "t": 20.2, "v": 0.48}, {"s": "q", "t": 20.8, "v": 0.49}, {"s": "q", "t": 21.4, "v": 0.48}, {"s": "q", "t": 21.8, "v": 0.44}, {"s": "q", "t": 22.2, "v": 0.35}, {"s": "q", "t": 22.6, "v": 0.24}, {"s": "q", "t": 23.0, "v": 0.16}, {"s": "q", "t": 23.4, "v": 0.14}, {"s": "q", "t": 24.0, "v": 0.16}, {"s": "q", "t": 24.56, "v": 0.15},
      {"s": "r", "t": 0.08, "v": 0.35}, {"s": "r", "t": 0.6, "v": 0.34}, {"s": "r", "t": 1.2, "v": 0.36}, {"s": "r", "t": 1.8, "v": 0.37}, {"s": "r", "t": 2.4, "v": 0.35}, {"s": "r", "t": 3.0, "v": 0.33}, {"s": "r", "t": 3.6, "v": 0.35}, {"s": "r", "t": 4.2, "v": 0.37}, {"s": "r", "t": 4.8, "v": 0.36}, {"s": "r", "t": 5.4, "v": 0.34}, {"s": "r", "t": 6.0, "v": 0.36}, {"s": "r", "t": 6.6, "v": 0.38}, {"s": "r", "t": 7.2, "v": 0.37}, {"s": "r", "t": 7.8, "v": 0.35}, {"s": "r", "t": 8.4, "v": 0.37}, {"s": "r", "t": 9.0, "v": 0.39}, {"s": "r", "t": 9.6, "v": 0.38}, {"s": "r", "t": 10.2, "v": 0.36}, {"s": "r", "t": 10.8, "v": 0.37}, {"s": "r", "t": 11.4, "v": 0.39}, {"s": "r", "t": 12.0, "v": 0.38}, {"s": "r", "t": 12.5, "v": 0.36}, {"s": "r", "t": 13.0, "v": 0.37}, {"s": "r", "t": 13.6, "v": 0.4}, {"s": "r", "t": 14.2, "v": 0.45}, {"s": "r", "t": 14.6, "v": 0.5}, {"s": "r", "t": 15.0, "v": 0.52}, {"s": "r", "t": 15.3, "v": 0.47}, {"s": "r", "t": 15.7, "v": 0.35}, {"s": "r", "t": 16.1, "v": 0.22}, {"s": "r", "t": 16.5, "v": 0.14}, {"s": "r", "t": 17.0, "v": 0.12}, {"s": "r", "t": 17.6, "v": 0.14}, {"s": "r", "t": 18.2, "v": 0.16}, {"s": "r", "t": 18.8, "v": 0.14}, {"s": "r", "t": 19.4, "v": 0.12}, {"s": "r", "t": 20.0, "v": 0.14}, {"s": "r", "t": 20.6, "v": 0.16}, {"s": "r", "t": 21.2, "v": 0.14}, {"s": "r", "t": 21.8, "v": 0.15}, {"s": "r", "t": 22.4, "v": 0.13}, {"s": "r", "t": 23.0, "v": 0.15}, {"s": "r", "t": 23.6, "v": 0.16}, {"s": "r", "t": 24.2, "v": 0.14}, {"s": "r", "t": 24.56, "v": 0.15}
    ],
    "mean": [
      {"t": 0.08, "v": 0.342}, {"t": 0.65, "v": 0.335}, {"t": 1.2, "v": 0.343}, {"t": 2.2, "v": 0.346}, {"t": 3.3, "v": 0.347},
      {"t": 4.3, "v": 0.346}, {"t": 5.3, "v": 0.348}, {"t": 6.1, "v": 0.342}, {"t": 6.6, "v": 0.35}, {"t": 7.1, "v": 0.354},
      {"t": 7.4, "v": 0.365}, {"t": 7.8, "v": 0.38}, {"t": 8.2, "v": 0.392}, {"t": 8.6, "v": 0.425}, {"t": 9.0, "v": 0.443},
      {"t": 9.5, "v": 0.442}, {"t": 9.8, "v": 0.438}, {"t": 10.2, "v": 0.447}, {"t": 10.7, "v": 0.428}, {"t": 11.3, "v": 0.412},
      {"t": 12.0, "v": 0.404}, {"t": 12.5, "v": 0.382}, {"t": 13.0, "v": 0.39}, {"t": 13.6, "v": 0.398}, {"t": 14.2, "v": 0.395},
      {"t": 14.5, "v": 0.389}, {"t": 14.9, "v": 0.395}, {"t": 15.2, "v": 0.376}, {"t": 15.7, "v": 0.344}, {"t": 16.5, "v": 0.3},
      {"t": 17.1, "v": 0.274}, {"t": 17.6, "v": 0.262}, {"t": 18.3, "v": 0.28}, {"t": 18.9, "v": 0.278}, {"t": 19.5, "v": 0.26},
      {"t": 20.2, "v": 0.233}, {"t": 21.0, "v": 0.204}, {"t": 21.7, "v": 0.185}, {"t": 22.5, "v": 0.172}, {"t": 23.1, "v": 0.159},
      {"t": 23.5, "v": 0.143}, {"t": 23.9, "v": 0.15}, {"t": 24.56, "v": 0.143}
    ],
    "zero": [
      {"t": 0.08, "v": 0}, {"t": 24.56, "v": 0}
    ]
  },
  "encoding": {
    "x": {
      "field": "t",
      "type": "quantitative",
      "title": "Time (s)",
      "scale": {"domain": [0.08, 24.56], "nice": false, "zero": false},
      "axis": {"values": [5, 10, 15, 20], "labelPadding": 56, "titlePadding": 24}
    }
  },
  "layer": [
    {
      "data": {"name": "envelope"},
      "mark": {"type": "area", "color": "#e6e6e6", "interpolate": "monotone"},
      "encoding": {
        "y": {
          "field": "hi",
          "type": "quantitative",
          "title": "Min clearance (m)",
          "scale": {"domain": [0, 0.634], "nice": false, "zero": false},
          "axis": {"values": [0, 0.2, 0.4, 0.6], "format": ".1~f", "labelPadding": 40, "titlePadding": 13}
        },
        "y2": {"field": "lo"}
      }
    },
    {
      "data": {"name": "envelope"},
      "mark": {"type": "line", "color": "#8c8c8c", "strokeWidth": 3, "interpolate": "monotone"},
      "encoding": {"y": {"field": "hi", "type": "quantitative", "title": "Min clearance (m)"}}
    },
    {
      "data": {"name": "envelope"},
      "mark": {"type": "line", "color": "#8c8c8c", "strokeWidth": 3, "interpolate": "monotone"},
      "encoding": {"y": {"field": "lo", "type": "quantitative", "title": "Min clearance (m)"}}
    },
    {
      "data": {"name": "trials"},
      "mark": {"type": "line", "color": "#474747", "strokeWidth": 3.2, "strokeJoin": "round", "interpolate": "monotone"},
      "encoding": {
        "y": {"field": "v", "type": "quantitative", "title": "Min clearance (m)"},
        "detail": {"field": "s", "type": "nominal"}
      }
    },
    {
      "data": {"name": "mean"},
      "mark": {"type": "line", "color": "#000000", "strokeWidth": 22, "strokeJoin": "round", "strokeCap": "butt", "interpolate": "monotone"},
      "encoding": {"y": {"field": "v", "type": "quantitative", "title": "Min clearance (m)"}}
    },
    {
      "data": {"name": "zero"},
      "mark": {"type": "line", "color": "#ff0000", "strokeWidth": 25, "strokeDash": [101, 99], "strokeCap": "butt"},
      "encoding": {"y": {"field": "v", "type": "quantitative", "title": "Min clearance (m)"}}
    }
  ]
}
